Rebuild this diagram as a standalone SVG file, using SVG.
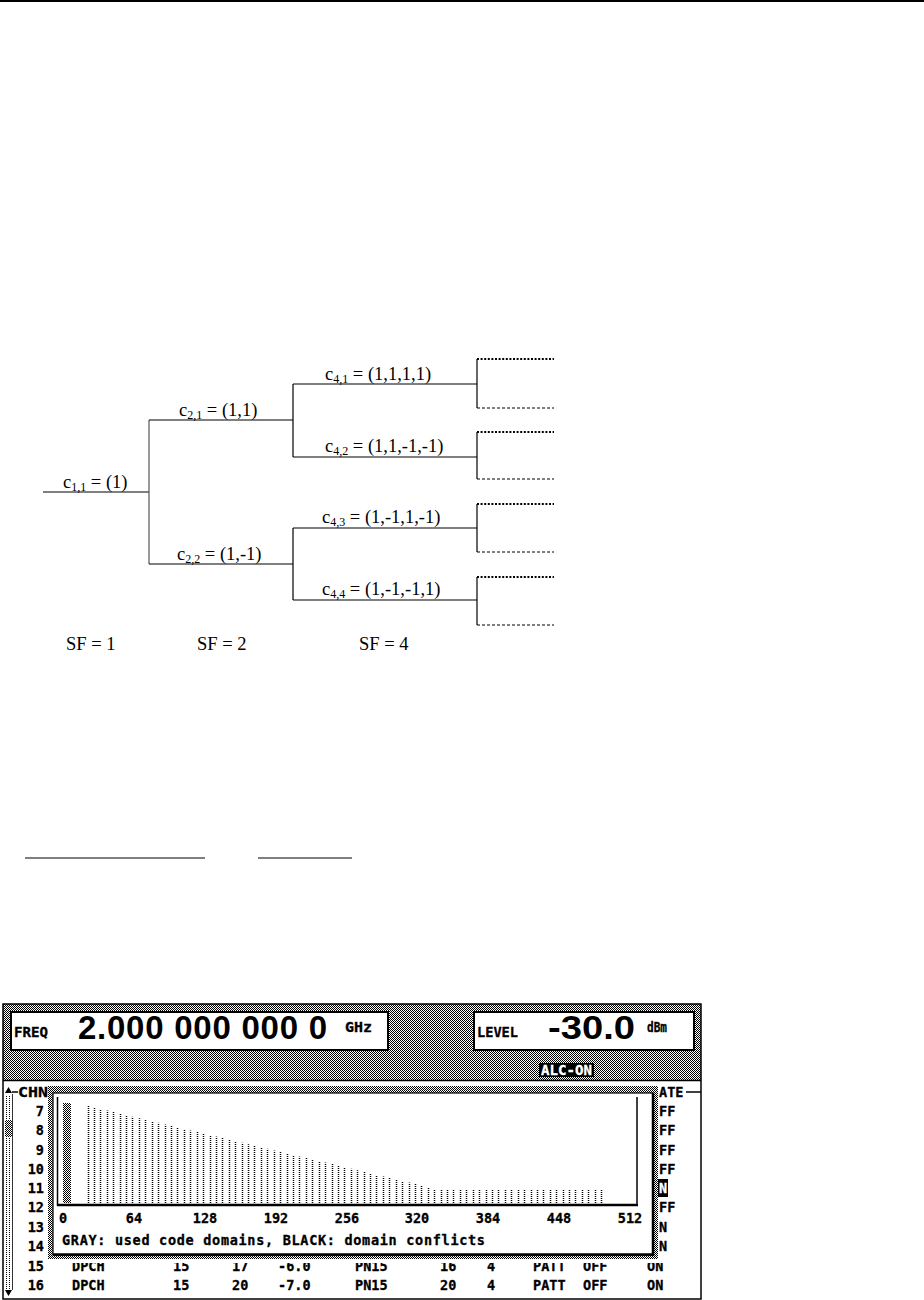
<svg xmlns="http://www.w3.org/2000/svg" width="924" height="1300" viewBox="0 0 924 1300">
<style>
.ln{stroke:#000;stroke-width:1.2;fill:none}
.lg{stroke:#555;stroke-width:1.2;fill:none}
.dt{stroke:#000;stroke-width:1.8;stroke-dasharray:2 1.6;fill:none}
.dd{stroke:#000;stroke-width:1;stroke-dasharray:3 2;fill:none}
.tm{font-family:"Liberation Serif","Times New Roman",serif;font-size:18.5px;fill:#000}
.sb{font-size:12px}
.scr{font-family:"DejaVu Sans Mono","Liberation Mono",monospace;font-weight:bold;font-size:13.5px;fill:#000;stroke:#000;stroke-width:0.3}
.big{font-family:"Liberation Sans",Arial,sans-serif;font-weight:bold;font-size:33px;fill:#000}
.bar{stroke:#000;stroke-width:1.5;stroke-dasharray:1 1;fill:none}
</style>
<defs>
<pattern id="hatch" width="2" height="2" patternUnits="userSpaceOnUse"><rect width="2" height="2" fill="#fff"/><rect width="1" height="1" fill="#000"/><rect x="1" y="1" width="1" height="1" fill="#000"/></pattern>
<pattern id="vdots" width="3" height="2" patternUnits="userSpaceOnUse"><rect width="3" height="2" fill="#fff"/><rect width="1" height="1" fill="#000"/></pattern>
<clipPath id="row15clip"><rect x="0" y="1263" width="924" height="20"/></clipPath>
</defs>
<rect width="924" height="1300" fill="#fff"/>
<line x1="0" y1="1" x2="924" y2="1" stroke="#000" stroke-width="2"/>

<!-- tree connectors -->
<g id="connectors">
<line class="ln" x1="43" y1="492" x2="149" y2="492"/>
<line class="lg" x1="149" y1="420" x2="149" y2="564"/>
<line class="ln" x1="149" y1="420" x2="293" y2="420"/>
<line class="ln" x1="149" y1="564" x2="293" y2="564"/>
<line class="ln" x1="293" y1="384" x2="293" y2="457"/>
<line class="ln" x1="293" y1="528" x2="293" y2="600"/>
<line class="ln" x1="293" y1="384" x2="477" y2="384"/>
<line class="ln" x1="293" y1="457" x2="477" y2="457"/>
<line class="ln" x1="293" y1="528" x2="477" y2="528"/>
<line class="ln" x1="293" y1="600" x2="477" y2="600"/>
<line class="ln" x1="477" y1="359" x2="477" y2="408"/>
<line class="ln" x1="477" y1="432" x2="477" y2="479"/>
<line class="ln" x1="477" y1="504" x2="477" y2="552"/>
<line class="ln" x1="477" y1="577" x2="477" y2="625"/>
<line class="dt" x1="477" y1="359" x2="554" y2="359"/>
<line class="dd" x1="477" y1="408" x2="554" y2="408"/>
<line class="dt" x1="477" y1="432" x2="554" y2="432"/>
<line class="dd" x1="477" y1="479" x2="554" y2="479"/>
<line class="dt" x1="477" y1="504" x2="554" y2="504"/>
<line class="dd" x1="477" y1="552" x2="554" y2="552"/>
<line class="dt" x1="477" y1="577" x2="554" y2="577"/>
<line class="dd" x1="477" y1="625" x2="554" y2="625"/>
</g>

<g id="c11"><text class="tm" x="63" y="488">c<tspan class="sb" dy="3">1,1</tspan><tspan dy="-3"> = (1)</tspan></text></g>
<g id="c21"><text class="tm" x="179" y="416">c<tspan class="sb" dy="3">2,1</tspan><tspan dy="-3"> = (1,1)</tspan></text></g>
<g id="c22"><text class="tm" x="177" y="560">c<tspan class="sb" dy="3">2,2</tspan><tspan dy="-3"> = (1,-1)</tspan></text></g>
<g id="c41"><text class="tm" x="325" y="380">c<tspan class="sb" dy="3">4,1</tspan><tspan dy="-3"> = (1,1,1,1)</tspan></text></g>
<g id="c42"><text class="tm" x="325" y="452">c<tspan class="sb" dy="3">4,2</tspan><tspan dy="-3"> = (1,1,-1,-1)</tspan></text></g>
<g id="c43"><text class="tm" x="322" y="523">c<tspan class="sb" dy="3">4,3</tspan><tspan dy="-3"> = (1,-1,1,-1)</tspan></text></g>
<g id="c44"><text class="tm" x="322" y="595">c<tspan class="sb" dy="3">4,4</tspan><tspan dy="-3"> = (1,-1,-1,1)</tspan></text></g>
<g id="sf"><text class="tm" x="66" y="650">SF = 1</text><text class="tm" x="197" y="650">SF = 2</text><text class="tm" x="359" y="650">SF = 4</text></g>

<g id="underlines">
<line x1="25" y1="858" x2="205" y2="858" stroke="#000" stroke-width="1"/>
<line x1="258" y1="858" x2="352" y2="858" stroke="#000" stroke-width="1"/>
</g>

<!-- instrument screen -->
<g id="screen">
<rect x="3" y="1004" width="698" height="76" fill="url(#hatch)"/>
<rect x="3" y="1004" width="698" height="295" fill="none" stroke="#000" stroke-width="1.5"/>
<line x1="3" y1="1080.5" x2="701" y2="1080.5" stroke="#000" stroke-width="1.5"/>
<rect x="11" y="1012" width="377" height="38" fill="#fff" stroke="#000" stroke-width="2"/>
<rect x="474" y="1012" width="220" height="38" fill="#fff" stroke="#000" stroke-width="2"/>
<text class="scr" x="14" y="1037" font-size="12" textLength="34" lengthAdjust="spacingAndGlyphs">FREQ</text>
<text class="big" x="78" y="1039" textLength="249" lengthAdjust="spacing">2.000 000 000 0</text>
<text class="scr" x="345" y="1032" font-size="11" textLength="27" lengthAdjust="spacingAndGlyphs">GHz</text>
<text class="scr" x="477" y="1037" font-size="12" textLength="41" lengthAdjust="spacingAndGlyphs">LEVEL</text>
<text class="big" x="548" y="1039" textLength="87" lengthAdjust="spacingAndGlyphs">-30.0</text>
<text class="scr" x="647" y="1032" font-size="10" textLength="20" lengthAdjust="spacingAndGlyphs">dBm</text>
<rect x="539" y="1063" width="55" height="14" fill="#000"/>
<text class="scr" x="541" y="1075" font-size="12" style="fill:#fff;stroke:#fff" textLength="51" lengthAdjust="spacingAndGlyphs">ALC-ON</text>

<!-- table area -->
<polygon points="8.5,1087 5,1093 12,1093" fill="#000"/>
<line x1="12" y1="1092" x2="18" y2="1092" stroke="#000" stroke-width="1.5"/>
<text class="scr" x="18" y="1097" textLength="30" lengthAdjust="spacingAndGlyphs">CHN</text>
<rect x="5" y="1095" width="7" height="194" fill="url(#vdots)"/>
<rect x="5" y="1120" width="7" height="17" fill="url(#hatch)"/>
<line x1="12.5" y1="1094" x2="12.5" y2="1290" stroke="#000" stroke-width="0.8"/>
<polygon points="5,1290 12,1290 8.5,1296" fill="#000"/>
<g text-anchor="end">
<text class="scr" x="44" y="1116">7</text>
<text class="scr" x="44" y="1135">8</text>
<text class="scr" x="44" y="1155">9</text>
<text class="scr" x="44" y="1174">10</text>
<text class="scr" x="44" y="1193">11</text>
<text class="scr" x="44" y="1212">12</text>
<text class="scr" x="44" y="1232">13</text>
<text class="scr" x="44" y="1251">14</text>
<text class="scr" x="44" y="1271">15</text>
<text class="scr" x="44" y="1290">16</text>
</g>
<g clip-path="url(#row15clip)">
<text class="scr" x="72" y="1271">DPCH</text>
<text class="scr" x="173" y="1271">15</text>
<text class="scr" x="232" y="1271">17</text>
<text class="scr" x="278" y="1271">-6.0</text>
<text class="scr" x="355" y="1271">PN15</text>
<text class="scr" x="440" y="1271">16</text>
<text class="scr" x="487" y="1271">4</text>
<text class="scr" x="533" y="1271">PATT</text>
<text class="scr" x="583" y="1271">OFF</text>
<text class="scr" x="647" y="1271">ON</text>
</g>
<text class="scr" x="72" y="1290">DPCH</text>
<text class="scr" x="173" y="1290">15</text>
<text class="scr" x="232" y="1290">20</text>
<text class="scr" x="278" y="1290">-7.0</text>
<text class="scr" x="355" y="1290">PN15</text>
<text class="scr" x="440" y="1290">20</text>
<text class="scr" x="487" y="1290">4</text>
<text class="scr" x="533" y="1290">PATT</text>
<text class="scr" x="583" y="1290">OFF</text>
<text class="scr" x="647" y="1290">ON</text>

<text class="scr" x="659" y="1097">ATE</text>
<line x1="686" y1="1092" x2="701" y2="1092" stroke="#000" stroke-width="1.5"/>
<text class="scr" x="659" y="1116">FF</text>
<text class="scr" x="659" y="1135">FF</text>
<text class="scr" x="659" y="1155">FF</text>
<text class="scr" x="659" y="1174">FF</text>
<rect x="658" y="1179" width="10" height="18" fill="#000"/>
<text class="scr" x="659" y="1193" style="fill:#fff;stroke:#fff">N</text>
<text class="scr" x="659" y="1212">FF</text>
<text class="scr" x="659" y="1232">N</text>
<text class="scr" x="659" y="1251">N</text>

<!-- popup -->
<rect x="48" y="1086" width="610" height="173" fill="url(#hatch)"/>
<rect x="53" y="1093" width="600" height="162" fill="#fff" stroke="#000" stroke-width="1.2"/>
<line x1="653" y1="1093" x2="653" y2="1256" stroke="#000" stroke-width="2.5"/>
<line x1="53" y1="1254.5" x2="654" y2="1254.5" stroke="#000" stroke-width="2.5"/>
<line x1="57.5" y1="1097" x2="57.5" y2="1206" stroke="#000" stroke-width="1.5"/>
<line x1="637" y1="1097" x2="637" y2="1206" stroke="#000" stroke-width="1.5"/>
<line x1="57" y1="1205" x2="638" y2="1205" stroke="#000" stroke-width="2.5"/>
<rect x="63" y="1103" width="8" height="100" fill="url(#hatch)"/>
<path class="bar" d="M88.5 1203V1106M94.5 1203V1107.5M100.5 1203V1109.1M107.5 1203V1110.6M113.5 1203V1112.1M120.5 1203V1113.7M126.5 1203V1115.2M132.5 1203V1116.7M139.5 1203V1118.2M145.5 1203V1119.8M152.5 1203V1121.3M158.5 1203V1122.8M165.5 1203V1124.4M171.5 1203V1125.9M177.5 1203V1127.4M184.5 1203V1129M190.5 1203V1130.5M197.5 1203V1132M203.5 1203V1133.5M210.5 1203V1135.1M216.5 1203V1136.6M222.5 1203V1138.1M229.5 1203V1139.7M235.5 1203V1141.2M242.5 1203V1142.7M248.5 1203V1144.3M254.5 1203V1145.8M261.5 1203V1147.3M267.5 1203V1148.8M274.5 1203V1150.4M280.5 1203V1151.9M287.5 1203V1153.4M293.5 1203V1155M299.5 1203V1156.5M306.5 1203V1158M312.5 1203V1159.6M319.5 1203V1161.1M325.5 1203V1162.6M332.5 1203V1164.1M338.5 1203V1165.7M344.5 1203V1167.2M351.5 1203V1168.7M357.5 1203V1170.3M364.5 1203V1171.8M370.5 1203V1173.3M376.5 1203V1174.9M383.5 1203V1176.4M389.5 1203V1177.9M396.5 1203V1179.4M402.5 1203V1181M409.5 1203V1182.5M415.5 1203V1184M421.5 1203V1185.6M428.5 1203V1187.1M434.5 1203V1189M441.5 1203V1189M447.5 1203V1189M453.5 1203V1189M460.5 1203V1189M466.5 1203V1189M473.5 1203V1189M479.5 1203V1189M486.5 1203V1189M492.5 1203V1189M498.5 1203V1189M505.5 1203V1189M511.5 1203V1189M518.5 1203V1189M524.5 1203V1189M531.5 1203V1189M537.5 1203V1189M543.5 1203V1189M550.5 1203V1189M556.5 1203V1189M563.5 1203V1189M569.5 1203V1189M575.5 1203V1189M582.5 1203V1189M588.5 1203V1189M595.5 1203V1189M601.5 1203V1189"/>
<g text-anchor="middle">
<text class="scr" x="63" y="1223">0</text>
<text class="scr" x="134" y="1223">64</text>
<text class="scr" x="205" y="1223">128</text>
<text class="scr" x="276" y="1223">192</text>
<text class="scr" x="347" y="1223">256</text>
<text class="scr" x="417" y="1223">320</text>
<text class="scr" x="488" y="1223">384</text>
<text class="scr" x="559" y="1223">448</text>
<text class="scr" x="630" y="1223">512</text>
</g>
<text class="scr" x="62" y="1245" font-size="13" textLength="423" lengthAdjust="spacing">GRAY: used code domains, BLACK: domain conflicts</text>
</g>
</svg>
